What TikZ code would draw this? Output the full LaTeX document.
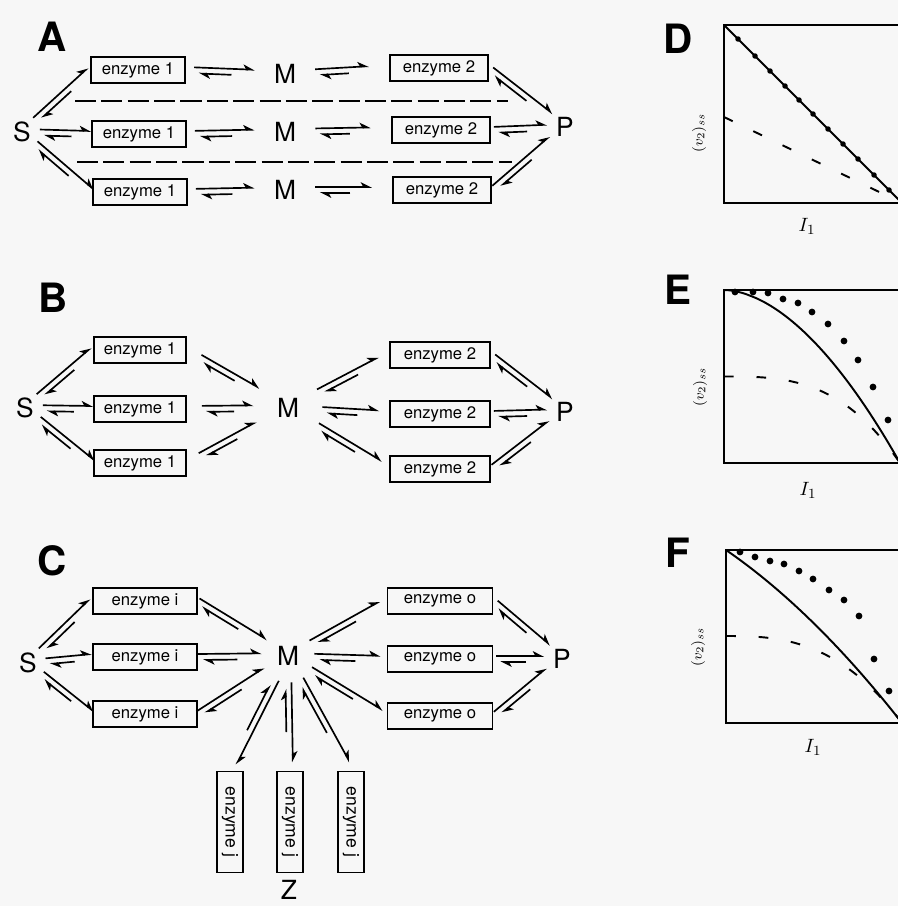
\documentclass[tikz,border=0pt]{standalone}
\usepackage{fontspec}
\setmainfont{TeX Gyre Heros}
\usetikzlibrary{arrows.meta, calc, positioning}

% offset of each half arrow from the axis of a reversible step
\newcommand\rgap{1.7pt}
% reversible step: [start gap][end gap]{from}{to}
\NewDocumentCommand\rev{O{0pt}O{0pt}mm}{%
  \path (#3) -- (#4) coordinate[pos=0] (r0) coordinate[pos=1] (r1);
  \coordinate (ra) at ($(r0)!#1!(r1)$);
  \coordinate (rb) at ($(r1)!#2!(r0)$);
  \coordinate (rc) at ($(ra)!0.62!(rb)$);
  \coordinate (rd) at ($(ra)!0.08!(rb)$);
  \path [fwd] ($(ra)!\rgap!90:(rb)$) -- ($(rb)!\rgap!-90:(ra)$);
  \path [fwd] ($(rc)!\rgap!-90:(rb)$) -- ($(rd)!\rgap!-90:(rb)$);
}

\begin{document}
\begin{tikzpicture}[
    x=0.2mm, y=-0.2mm,
    enzbox/.style={
        draw,
        line width=1.1pt,
        inner sep=0pt,
        minimum height=5.2mm,
        font=\fontsize{9.5}{10}\selectfont
    },
    vbox/.style={
        draw,
        line width=1.1pt,
        inner sep=0pt,
        minimum width=5.1mm,
        minimum height=20.2mm,
        font=\fontsize{10}{10}\selectfont
    },
    met/.style={
        circle,
        inner sep=0pt,
        minimum size=7mm,
        font=\fontsize{15}{15}\selectfont
    },
    panel/.style={font=\fontsize{23}{23}\selectfont\bfseries},
    fwd/.style={
        draw,
        line width=0.95pt,
        -{Stealth[harpoon, length=5.5pt, width=5.5pt, inset=1.5pt]}
    },
    divider/.style={draw, line width=1.1pt, dash pattern=on 12pt off 3pt},
    plotframe/.style={draw, line width=1.4pt},
    trace/.style={draw, line width=1.1pt},
    dsh/.style={draw, line width=1.1pt, dash pattern=on 5.5pt off 13pt},
    axlab/.style={font=\fontsize{8}{9}\selectfont},
    xlab/.style={font=\fontsize{11}{12}\selectfont}
]

\fill [black!3] (0,0) rectangle (898,906);
\clip (0,0) rectangle (898,906);

% Panel A
\node [panel] (labA) at (52,37) {A};
\node [met] (sA) at (22,132) {S};
\node [enzbox, minimum width=18.8mm] (a1) at (138,70) {enzyme 1};
\node [enzbox, minimum width=18.8mm] (a2) at (139,134) {enzyme 1};
\node [enzbox, minimum width=18.8mm] (a3) at (140,192) {enzyme 1};
\node [met, minimum size=12mm] (mA1) at (285,74) {M};
\node [met, minimum size=12mm] (mA2) at (285,132) {M};
\node [met, minimum size=12mm] (mA3) at (285,190) {M};
\node [enzbox, minimum width=19.6mm] (b1) at (439,68) {enzyme 2};
\node [enzbox, minimum width=19.6mm] (b2) at (441,130) {enzyme 2};
\node [enzbox, minimum width=19.6mm] (b3) at (442,190) {enzyme 2};
\node [met] (pA) at (565,127) {P};

\rev{sA}{a1.west}
\rev{sA}{a2.west}
\rev{sA}{a3.west}
\rev[1.6mm]{a1.east}{mA1}
\rev[1.6mm]{a2.east}{mA2}
\rev[1.6mm]{a3.east}{mA3}
\rev[0mm][4mm]{mA1}{b1.west}
\rev[0mm][4mm]{mA2}{b2.west}
\rev[0mm][4mm]{mA3}{b3.west}
\rev[0.6mm]{b1.east}{pA}
\rev[0.6mm]{b2.east}{pA}
\rev[0.6mm]{b3.east}{pA}

\path [divider] (75,101) -- (508,101);
\path [divider] (77,162) -- (512,162);

% Panel B
\node [panel] (labB) at (53,298) {B};
\node [met] (sB) at (25,408) {S};
\node [enzbox, minimum width=18.4mm] (c1) at (140,350) {enzyme 1};
\node [enzbox, minimum width=18.4mm] (c2) at (140,409) {enzyme 1};
\node [enzbox, minimum width=18.4mm] (c3) at (140,463) {enzyme 1};
\node [met, minimum size=13.6mm] (mB) at (288,408) {M};
\node [enzbox, minimum width=20mm] (d1) at (440,355) {enzyme 2};
\node [enzbox, minimum width=20mm] (d2) at (440,414) {enzyme 2};
\node [enzbox, minimum width=20mm] (d3) at (440,469) {enzyme 2};
\node [met] (pB) at (565,412) {P};

\rev{sB}{c1.west}
\rev{sB}{c2.west}
\rev{sB}{c3.west}
\rev[3mm]{c1.east}{mB}
\rev[3mm]{c2.east}{mB}
\rev[3mm]{c3.east}{mB}
\rev[0mm][2mm]{mB}{d1.west}
\rev[0mm][2mm]{mB}{d2.west}
\rev[0mm][2mm]{mB}{d3.west}
\rev[0.6mm]{d1.east}{pB}
\rev[0.6mm]{d2.east}{pB}
\rev[0.6mm]{d3.east}{pB}

% Panel C
\node [panel] (labC) at (52,561) {C};
\node [met] (sC) at (28,663) {S};
\node [enzbox, minimum width=20.8mm] (f1) at (145,601) {enzyme i};
\node [enzbox, minimum width=20.8mm] (f2) at (145,657) {enzyme i};
\node [enzbox, minimum width=20.8mm] (f3) at (145,714) {enzyme i};
\node [met, minimum size=10.4mm] (mC) at (288,656) {M};
\node [enzbox, minimum width=21mm] (g1) at (440,601) {enzyme o};
\node [enzbox, minimum width=21mm] (g2) at (440,659) {enzyme o};
\node [enzbox, minimum width=21mm] (g3) at (440,716) {enzyme o};
\node [met] (pC) at (562,659) {P};
\node [vbox] (j1) at (230,822) {\rotatebox{-90}{enzyme j}};
\node [vbox] (j2) at (290,822) {\rotatebox{-90}{enzyme j}};
\node [vbox] (j3) at (351,822) {\rotatebox{-90}{enzyme j}};
\node [met] (zC) at (289,890) {Z};

\rev{sC}{f1.west}
\rev{sC}{f2.west}
\rev{sC}{f3.west}
\rev{f1.east}{mC}
\rev{f2.east}{mC}
\rev{f3.east}{mC}
\rev[0mm][1.2mm]{mC}{g1.west}
\rev[0mm][1.2mm]{mC}{g2.west}
\rev[0mm][1.2mm]{mC}{g3.west}
\rev[0.6mm]{g1.east}{pC}
\rev[0.6mm]{g2.east}{pC}
\rev[0.6mm]{g3.east}{pC}
\rev[0mm][1.6mm]{mC}{j1.north}
\rev[0mm][1.6mm]{mC}{j2.north}
\rev[0mm][1.6mm]{mC}{j3.north}

% Panel D
\node [panel] (labD) at (678,39) {D};
\path [plotframe] (724,25) rectangle (902,203);
\path [trace] (724,25) -- (902,203);
\path [dsh] (724,117) -- (902,203);
\foreach \x in {738,755,770,785,799,813,828,843,858,874,889}
    \fill ({\x},{\x-699}) circle [radius=0.55mm];
\node [axlab, rotate=90] (yD) at (699,133) {$(v_2)_{ss}$};
\node [xlab] (xD) at (807,226) {$I_1$};

% Panel E
\node [panel] (labE) at (678,290) {E};
\path [plotframe] (724,290) rectangle (902,463);
\path [trace] plot [domain=0.001:1, samples=50] ({724+176*\x},{290+173*\x^1.8});
\path [dsh] plot [domain=0:1, samples=50] ({724+176*\x},{376.5+86.5*\x*\x*\x});
\foreach \x/\y in {735/292,753/292,768/293,783/299,798/303,812/312,828/324,844/341,858/360,873/387,888/420}
    \fill (\x,\y) circle [radius=0.68mm];
\node [axlab, rotate=90] (yE) at (700,387) {$(v_2)_{ss}$};
\node [xlab] (xE) at (808,490) {$I_1$};

% Panel F
\node [panel] (labF) at (678,553) {F};
\path [plotframe] (726,550) rectangle (902,723);
\path [trace] plot [domain=0:1, samples=50] ({726+176*\x},{550+173*(0.7*\x+0.3*\x*\x)});
\path [dsh] plot [domain=0.001:1, samples=50] ({726+176*\x},{636+87*\x^2.7});
\foreach \x/\y in {740/552,755/557,770/561,784/564,799/571,813/579,829/590,844/600,859/616,874/659,889/691}
    \fill (\x,\y) circle [radius=0.68mm];
\node [axlab, rotate=90] (yF) at (698,647) {$(v_2)_{ss}$};
\node [xlab] (xF) at (813,747) {$I_1$};

\end{tikzpicture}
\end{document}
